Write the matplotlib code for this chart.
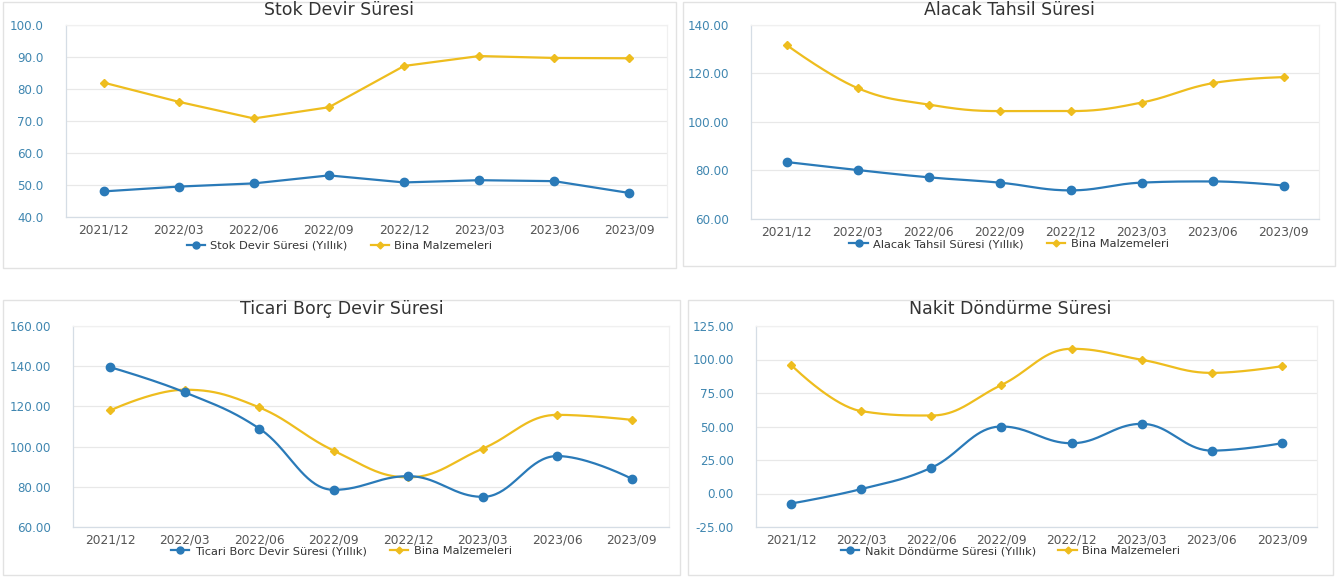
import numpy as np
import matplotlib
matplotlib.use("Agg")
import matplotlib.pyplot as plt
from matplotlib.patches import Rectangle
from matplotlib.lines import Line2D

categories = ["2021/12", "2022/03", "2022/06", "2022/09", "2022/12", "2023/03", "2023/06", "2023/09"]

stok_firma = [48.0, 49.5, 50.5, 53.0, 50.8, 51.5, 51.2, 47.5]
stok_sektor = [82.0, 76.0, 70.8, 74.3, 87.2, 90.3, 89.7, 89.6]

alacak_firma = [83.5, 80.2, 77.2, 75.0, 71.8, 75.0, 75.5, 73.8]
alacak_sektor = [131.8, 114.0, 107.2, 104.5, 104.5, 108.0, 116.0, 118.5]

borc_firma = [139.5, 127.0, 109.0, 78.5, 85.3, 75.0, 95.3, 84.0]
borc_sektor = [118.0, 128.3, 119.5, 98.0, 84.7, 99.0, 115.8, 113.3]

nakit_firma = [-7.5, 3.3, 19.2, 50.0, 37.5, 52.0, 32.0, 37.5]
nakit_sektor = [96.0, 61.5, 58.2, 81.0, 108.0, 99.8, 90.0, 95.0]

titles = ["Stok Devir Süresi", "Alacak Tahsil Süresi", "Ticari Borç Devir Süresi", "Nakit Döndürme Süresi"]
firma_labels = ["Stok Devir Süresi (Yıllık)", "Alacak Tahsil Süresi (Yıllık)",
                "Ticari Borc Devir Süresi (Yıllık)", "Nakit Döndürme Süresi (Yıllık)"]
sektor_label = "Bina Malzemeleri"

BLUE = "#2a7ab8"
YELLOW = "#eebd1e"
W, H = 1337, 581

fig = plt.figure(figsize=(W / 100, H / 100), dpi=100)
fig.patch.set_facecolor("white")


def px_rect(x0, y0, x1, y1):
    return [x0 / W, 1 - y1 / H, (x1 - x0) / W, (y1 - y0) / H]


def spline_path(xs, ys, n=40):
    """Highcharts-style spline drawn through the data points (display only)."""
    xs = np.asarray(xs, float)
    ys = np.asarray(ys, float)
    k = len(xs)
    sm, den = 1.5, 2.5
    lc = [(xs[j], ys[j]) for j in range(k)]
    rc = [(xs[j], ys[j]) for j in range(k)]
    for i in range(1, k - 1):
        px, py = xs[i], ys[i]
        lx, ly = xs[i - 1], ys[i - 1]
        nx, ny = xs[i + 1], ys[i + 1]
        lcx = (sm * px + lx) / den
        lcy = (sm * py + ly) / den
        rcx = (sm * px + nx) / den
        rcy = (sm * py + ny) / den
        corr = ((rcy - lcy) * (rcx - px)) / (rcx - lcx) + py - rcy
        lcy += corr
        rcy += corr
        if lcy > ly and lcy > py:
            lcy = max(ly, py)
            rcy = 2 * py - lcy
        elif lcy < ly and lcy < py:
            lcy = min(ly, py)
            rcy = 2 * py - lcy
        if rcy > ny and rcy > py:
            rcy = max(ny, py)
            lcy = 2 * py - rcy
        elif rcy < ny and rcy < py:
            rcy = min(ny, py)
            lcy = 2 * py - rcy
        lc[i] = (lcx, lcy)
        rc[i] = (rcx, rcy)
    ox, oy = [], []
    t = np.linspace(0, 1, n)
    for i in range(k - 1):
        p0 = np.array([xs[i], ys[i]])
        p1 = np.array(rc[i])
        p2 = np.array(lc[i + 1])
        p3 = np.array([xs[i + 1], ys[i + 1]])
        b = ((1 - t) ** 3)[:, None] * p0 + (3 * (1 - t) ** 2 * t)[:, None] * p1 \
            + (3 * (1 - t) * t ** 2)[:, None] * p2 + (t ** 3)[:, None] * p3
        ox.append(b[:, 0])
        oy.append(b[:, 1])
    return np.concatenate(ox), np.concatenate(oy)


panels = [
    dict(frame=(3, 2, 676, 268), ax=(66, 25, 667, 217), firma=stok_firma, sektor=stok_sektor,
         ylim=(40, 100), step=10, fmt="{:.1f}", smooth=False, title_y=10, leg_y=246),
    dict(frame=(683, 2, 1335, 266), ax=(751, 25, 1319, 219), firma=alacak_firma, sektor=alacak_sektor,
         ylim=(60, 140), step=20, fmt="{:.2f}", smooth=True, title_y=10, leg_y=244),
    dict(frame=(3, 300, 680, 575), ax=(73, 326, 669, 527), firma=borc_firma, sektor=borc_sektor,
         ylim=(60, 160), step=20, fmt="{:.2f}", smooth=True, title_y=309, leg_y=551),
    dict(frame=(688, 300, 1333, 575), ax=(756, 326, 1317, 527), firma=nakit_firma, sektor=nakit_sektor,
         ylim=(-25, 125), step=25, fmt="{:.2f}", smooth=True, title_y=309, leg_y=551),
]

x = np.arange(len(categories))

for i, p in enumerate(panels):
    fx0, fy0, fx1, fy1 = p["frame"]
    fig.patches.append(Rectangle((fx0 / W, 1 - fy1 / H), (fx1 - fx0) / W, (fy1 - fy0) / H,
                                 transform=fig.transFigure, fill=False, edgecolor="#e2e2e2", lw=1.0))
    ax = fig.add_axes(px_rect(*p["ax"]))
    ax.set_xlim(-0.5, len(categories) - 0.5)
    ax.set_ylim(*p["ylim"])
    yt = np.arange(p["ylim"][0], p["ylim"][1] + 0.001, p["step"])
    ax.set_yticks(yt)
    ax.set_yticklabels([p["fmt"].format(v) for v in yt], color="#3f86b0", fontsize=8.6)
    ax.set_xticks(x)
    ax.set_xticklabels(categories, color="#555555", fontsize=8.8)
    ax.tick_params(length=0, pad=5)
    ax.tick_params(axis="y", pad=16)
    ax.grid(axis="y", color="#e8e8e8", lw=0.9)
    ax.set_axisbelow(True)
    for s in ["top", "right"]:
        ax.spines[s].set_color("#f0f0f0")
    for s in ["left", "bottom"]:
        ax.spines[s].set_color("#d5dde5")
    for s in ax.spines.values():
        s.set_linewidth(0.9)

    if p["smooth"]:
        sx, sy = spline_path(x, p["sektor"])
        ax.plot(sx, sy, color=YELLOW, lw=1.6, zorder=3)
        bx, by = spline_path(x, p["firma"])
        ax.plot(bx, by, color=BLUE, lw=1.6, zorder=4)
    else:
        ax.plot(x, p["sektor"], color=YELLOW, lw=1.6, zorder=3)
        ax.plot(x, p["firma"], color=BLUE, lw=1.6, zorder=4)
    ax.plot(x, p["sektor"], ls="none", marker="D", ms=4, color=YELLOW, zorder=5)
    ax.plot(x, p["firma"], ls="none", marker="o", ms=6, color=BLUE, zorder=6)

    cx = ((fx0 + fx1) / 2) / W
    fig.text(cx, 1 - p["title_y"] / H, titles[i], ha="center", va="center", fontsize=12.5, color="#333333")

    handles = [Line2D([], [], color=BLUE, lw=1.6, marker="o", ms=5),
               Line2D([], [], color=YELLOW, lw=1.6, marker="D", ms=3.5)]
    fig.legend(handles, [firma_labels[i], sektor_label], loc="center",
               bbox_to_anchor=(cx, 1 - p["leg_y"] / H), ncol=2, frameon=False,
               fontsize=8.2, handlelength=1.6, columnspacing=2.0, handletextpad=0.5,
               labelcolor="#333333")

fig.savefig("out.png", dpi=100, facecolor="white")
